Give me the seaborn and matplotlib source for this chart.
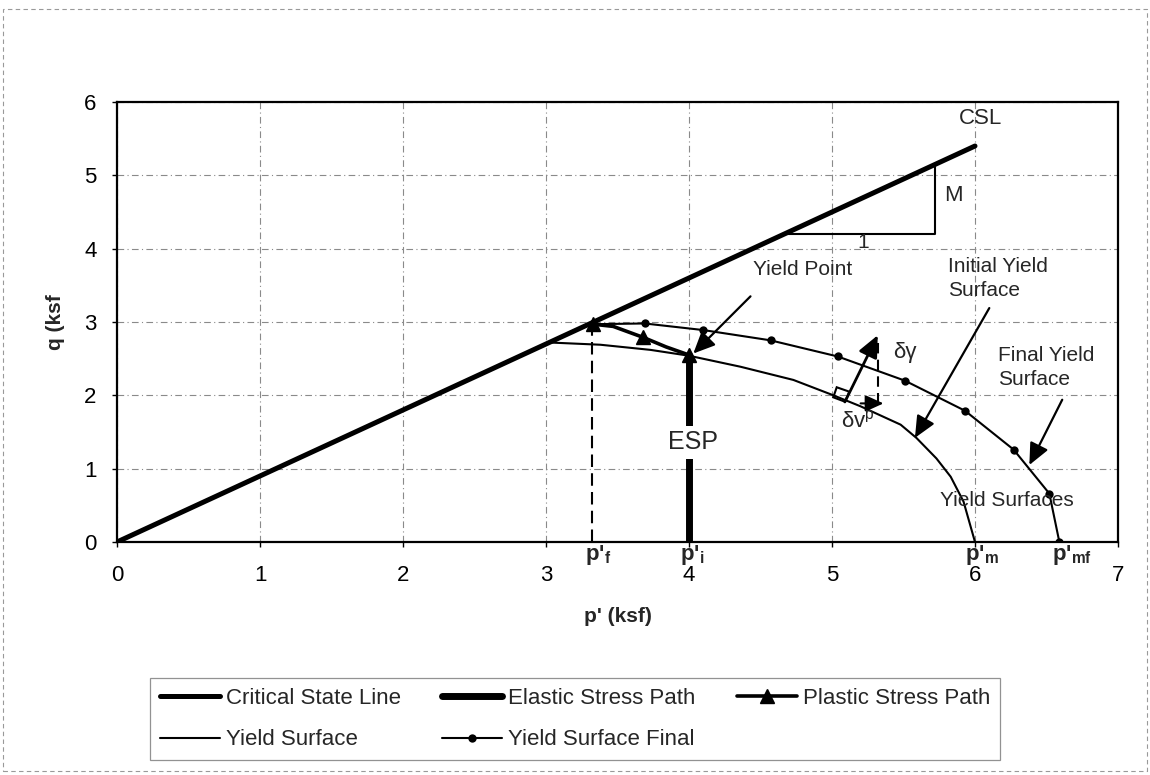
import numpy as np
import pandas as pd
import seaborn as sns
import matplotlib.pyplot as plt
from matplotlib.lines import Line2D
from matplotlib.patches import Rectangle, Polygon

# ---------------- data ----------------
csl_p = [0.0, 6.0]
csl_q = [0.0, 5.4]

esp_p = [4.0, 4.0]
esp_q = [0.0, 2.55]

psp_p = [4.00, 3.84, 3.68, 3.47, 3.33]
psp_q = [2.55, 2.66, 2.79, 2.94, 2.97]

ys_p = [3.03, 3.38, 3.73, 4.00, 4.36, 4.73, 5.01, 5.20, 5.48, 5.59, 5.73, 5.83, 5.92, 6.00]
ys_q = [2.72, 2.69, 2.62, 2.54, 2.39, 2.21, 2.00, 1.85, 1.60, 1.42, 1.14, 0.89, 0.55, 0.00]

ysf_p = [3.33, 3.69, 4.10, 4.57, 5.04, 5.51, 5.93, 6.27, 6.52, 6.59]
ysf_q = [2.97, 2.98, 2.89, 2.75, 2.53, 2.20, 1.79, 1.26, 0.66, 0.00]

pf_line_p = [3.32, 3.32]
pf_line_q = [0.0, 2.97]

x_ticks = [0, 1, 2, 3, 4, 5, 6, 7]
y_ticks = [0, 1, 2, 3, 4, 5, 6]

series_labels = ["Critical State Line", "Yield Surface", "Elastic Stress Path",
                 "Yield Surface Final", "Plastic Stress Path"]

# ---------------- style ----------------
sns.set_theme(style="white")
plt.rcParams['font.family'] = ['Liberation Sans', 'DejaVu Sans']
plt.rcParams['mathtext.fontset'] = 'custom'
plt.rcParams['mathtext.rm'] = 'Liberation Sans'
plt.rcParams['mathtext.bf'] = 'Liberation Sans:bold'
plt.rcParams['mathtext.it'] = 'Liberation Sans:italic'

W, H = 1150, 775
fig = plt.figure(figsize=(W / 100, H / 100), dpi=100)
fig.patch.set_facecolor('white')
ax = fig.add_axes([117 / W, 1 - 542 / H, 1001 / W, 440 / H])

# grid
ax.set_xlim(0, 7)
ax.set_ylim(0, 6)
ax.set_xticks(x_ticks)
ax.set_yticks(y_ticks)
ax.grid(True, color='#8a8a8a', lw=0.8, linestyle=(0, (6, 3, 1, 3)), zorder=0)
ax.set_axisbelow(True)

# series
sns.lineplot(x=csl_p, y=csl_q, ax=ax, color='black', lw=3.6, sort=False, estimator=None, zorder=4)
sns.lineplot(x=ys_p, y=ys_q, ax=ax, color='black', lw=1.5, sort=False, estimator=None, zorder=3)
sns.lineplot(x=ysf_p, y=ysf_q, ax=ax, color='black', lw=1.5, sort=False, estimator=None,
             marker='o', markersize=6, markeredgewidth=0, zorder=3)
sns.lineplot(x=esp_p, y=esp_q, ax=ax, color='black', lw=5, sort=False, estimator=None, zorder=4)
ax.plot(psp_p, psp_q, color='black', lw=2.6, marker='^', markersize=10,
        markevery=[0, 2, 4], zorder=5)
ax.plot(pf_line_p, pf_line_q, color='black', lw=1.5, linestyle=(0, (6, 3)), zorder=3)

# slope triangle
ax.plot([4.68, 5.72, 5.72], [4.20, 4.20, 5.15], color='black', lw=1.5, zorder=3)

# right-angle marker and normal vectors
sq = Polygon([(5.033, 2.110), (5.121, 2.050), (5.091, 1.913), (5.009, 1.973)],
             closed=True, fill=False, edgecolor='black', lw=1.5, zorder=4)
ax.add_patch(sq)
ax.plot([5.32, 5.32], [2.72, 1.90], color='black', lw=1.5, linestyle=(0, (5, 3)), zorder=3)

def arrow(start, tip, lw=1.6, scale=24):
    ax.annotate('', xy=tip, xytext=start,
                arrowprops=dict(arrowstyle='-|>,head_length=0.55,head_width=0.25',
                                color='black', lw=lw, mutation_scale=scale,
                                shrinkA=0, shrinkB=0), zorder=6)

arrow((4.43, 3.35), (4.03, 2.57))
arrow((6.10, 3.19), (5.58, 1.42))
arrow((6.61, 1.94), (6.38, 1.05))
arrow((5.09, 1.91), (5.32, 2.82), lw=2)
arrow((5.20, 1.89), (5.36, 1.89), lw=1.5, scale=20)

# text annotations
fs = 15
ax.text(5.885, 5.77, "CSL", fontsize=16, ha='left', va='center')
ax.text(5.85, 4.73, "M", fontsize=16, ha='center', va='center')
ax.text(5.22, 4.08, "1", fontsize=15, ha='center', va='center')
ax.text(4.45, 3.72, "Yield Point", fontsize=fs, ha='left', va='center')
ax.text(5.81, 3.59, "Initial Yield\nSurface", fontsize=fs, ha='left', va='center', linespacing=1.3)
ax.text(6.16, 2.38, "Final Yield\nSurface", fontsize=fs, ha='left', va='center', linespacing=1.3)
ax.text(6.22, 0.57, "Yield Surfaces", fontsize=fs, ha='center', va='center', zorder=7)
ax.text(4.03, 1.36, "ESP", fontsize=18, ha='center', va='center', zorder=7,
        bbox=dict(facecolor='white', edgecolor='none', pad=3))
ax.text(5.51, 2.59, "δγ", fontsize=16, ha='center', va='center')
ax.text(5.18, 1.64, r"δv$^{\mathrm{p}}$", fontsize=16, ha='center', va='center', zorder=7)

for xp, sub in [(3.27, 'f'), (3.94, 'i'), (5.93, 'm'), (6.54, 'mf')]:
    ax.text(xp, -0.18, r"p'$_{\mathbf{" + sub + "}}$", fontsize=16, fontweight='bold',
            ha='left', va='center', clip_on=False, zorder=7)

# axes styling
for s in ax.spines.values():
    s.set_color('black')
    s.set_linewidth(1.6)
ax.tick_params(axis='both', direction='out', length=3.6, width=1, colors='black',
               labelsize=16, left=True, bottom=True)
ax.tick_params(axis='x', pad=13)
ax.tick_params(axis='y', pad=11)
ax.set_xlabel("p' (ksf)", fontsize=15, fontweight='bold')
ax.set_ylabel("q (ksf", fontsize=15, fontweight='bold')
ax.xaxis.set_label_coords(0.5, -0.148)
ax.yaxis.set_label_coords(-0.052, 0.5)

# legend
handles = [
    Line2D([], [], color='black', lw=3.6),
    Line2D([], [], color='black', lw=1.5),
    Line2D([], [], color='black', lw=5),
    Line2D([], [], color='black', lw=1.5, marker='o', markersize=6, markeredgewidth=0),
    Line2D([], [], color='black', lw=2.6, marker='^', markersize=10),
]
leg = fig.legend(handles, series_labels, ncol=3, loc='upper left',
                 bbox_to_anchor=(150 / W, 1 - 678 / H, 850 / W, 0.0),
                 bbox_transform=fig.transFigure, mode='expand',
                 fontsize=16, frameon=True, fancybox=False, shadow=False,
                 handlelength=2.7, handletextpad=0.25, columnspacing=0.6,
                 labelspacing=0.92, borderpad=0.45, borderaxespad=0)
leg.get_frame().set_edgecolor('#777777')
leg.get_frame().set_linewidth(0.9)

# outer chart border
fig.patches.append(Rectangle((3 / W, 4 / H), 1144 / W, 762 / H, transform=fig.transFigure,
                             fill=False, edgecolor='#999999', lw=0.8, linestyle=(0, (4, 3))))

fig.savefig('out.png', dpi=100, facecolor='white')
